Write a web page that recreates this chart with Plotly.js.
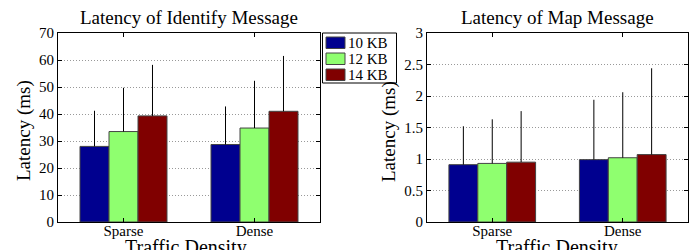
<!DOCTYPE html>
<html>
<head>
<meta charset="utf-8">
<script src="https://cdn.plot.ly/plotly-3.0.1.min.js"></script>
<style>html,body{margin:0;padding:0;background:#fff;}#chart{width:694px;height:250px;}</style>
</head>
<body>
<div id="chart"></div>
<script>
const categories = ["Sparse", "Dense"];
const seriesNames = ["10 KB", "12 KB", "14 KB"];
const seriesColors = ["#00008F", "#8FFF6F", "#800000"];

// Identify message latency (ms): means and upper error-bar tops
const identifyMean = [[28.0, 28.7], [33.5, 34.8], [39.3, 41.0]];
const identifyTop  = [[41.2, 42.8], [49.7, 52.3], [58.2, 61.5]];

// Map message latency (ms)
const mapMean = [[0.91, 0.99], [0.93, 1.02], [0.95, 1.07]];
const mapTop  = [[1.52, 1.94], [1.63, 2.06], [1.76, 2.44]];

const W = 694, H = 250;
const serif = "Liberation Serif";
const px = v => v / W, py = v => 1 - v / H;

const traces = [];
function addSet(means, tops, xa, ya) {
  means.forEach((m, i) => {
    traces.push({
      type: "bar", x: categories, y: m, name: seriesNames[i],
      xaxis: xa, yaxis: ya, showlegend: false,
      marker: {color: seriesColors[i], line: {color: "#444", width: 1}},
      error_y: {type: "data", symmetric: false, array: tops[i].map((t, k) => t - m[k]),
                arrayminus: m.map(() => 0), width: 0, thickness: 1, color: "#000"}
    });
  });
}
addSet(identifyMean, identifyTop, "x", "y");
addSet(mapMean, mapTop, "x2", "y2");

const ydom = [py(222), py(33)];
function xax(dom, anchor) {
  return {domain: dom, anchor: anchor, showline: true, linecolor: "#000", linewidth: 1, mirror: "ticks",
    ticks: "inside", ticklen: 4, tickcolor: "#000", showgrid: false, zeroline: false,
    ticklabelstandoff: -5,
    tickfont: {family: serif, size: 15, color: "#000"}};
}
function yax(dom, anchor, range, dtick) {
  return {domain: dom, anchor: anchor, range: range, dtick: dtick, showline: true, linecolor: "#000", linewidth: 1,
    mirror: "ticks", ticks: "inside", ticklen: 4, tickcolor: "#000", showgrid: true, gridcolor: "#999",
    griddash: "1px,2px", gridwidth: 1, zeroline: false, tickfont: {family: serif, size: 15, color: "#000"}};
}
function ann(text, x, y, size, extra) {
  return Object.assign({text: text, xref: "paper", yref: "paper", x: x, y: y, xanchor: "center",
    yanchor: "middle", showarrow: false, font: {family: serif, size: size, color: "#000"}}, extra || {});
}

// Legend (drawn as a box with swatches, labels from seriesNames/seriesColors)
const shapes = [{type: "rect", xref: "paper", yref: "paper", x0: px(322.5), x1: px(396.5), y0: py(83), y1: py(33),
  line: {color: "#000", width: 1}, fillcolor: "#fff"}];
const legendAnns = [];
seriesNames.forEach((n, i) => {
  const top = 37 + 16 * i;
  shapes.push({type: "rect", xref: "paper", yref: "paper", x0: px(326), x1: px(345), y0: py(top + 11.5), y1: py(top),
    line: {color: "#444", width: 1}, fillcolor: seriesColors[i]});
  legendAnns.push(ann(n, px(346), py(top + 6), 15, {xanchor: "left"}));
});

const layout = {
  width: W, height: H, margin: {l: 0, r: 0, t: 0, b: 0},
  font: {family: serif, color: "#000"},
  paper_bgcolor: "#fff", plot_bgcolor: "#fff", showlegend: false,
  barmode: "group", bargap: 0.336, bargroupgap: 0,
  xaxis: xax([px(58), px(320)], "y"),
  yaxis: yax(ydom, "x", [0, 70], 10),
  xaxis2: xax([px(427), px(688)], "y2"),
  yaxis2: yax(ydom, "x2", [0, 3], 0.5),
  shapes: shapes,
  annotations: [
    ann("Latency of Identify Message", px(189), py(17), 19),
    ann("Latency of Map Message", px(557), py(17), 19),
    ann("Latency (ms)", px(24), py(131), 19, {textangle: -90}),
    ann("Latency (ms)", px(389), py(131), 19, {textangle: -90}),
    ann("Traffic Density", px(186), py(234), 20, {yanchor: "top"}),
    ann("Traffic Density", px(557), py(234), 20, {yanchor: "top"})
  ].concat(legendAnns)
};
Plotly.newPlot("chart", traces, layout, {staticPlot: true, displayModeBar: false});
</script>
</body>
</html>
